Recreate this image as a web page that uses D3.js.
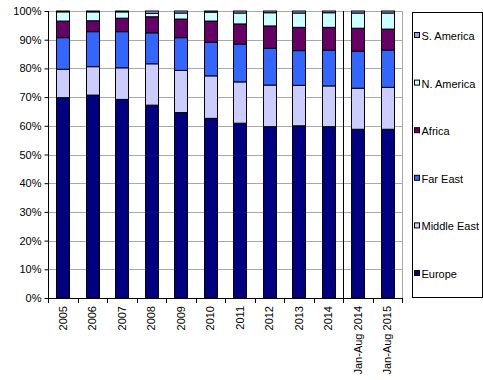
<!DOCTYPE html>
<html>
<head>
<meta charset="utf-8">
<script src="https://cdn.jsdelivr.net/npm/d3@7"></script>
<style>
  body { margin: 0; background: #fff; }
  text { font-family: "Liberation Sans", Arial, sans-serif; font-size: 11px; fill: #000; }
</style>
</head>
<body>
<div id="chart"></div>
<script>
/******************** DATA ********************/

var categories = ["2005", "2006", "2007", "2008", "2009", "2010", "2011", "2012", "2013", "2014",
    "Jan-Aug 2014", "Jan-Aug 2015"];

var europe     = [69.8, 70.7, 69.2, 67.2, 64.6, 62.6, 60.9, 59.7, 60.0, 59.7, 58.8, 58.8];
var middleEast = [9.9, 9.9, 11.0, 14.4, 14.7, 14.8, 14.4, 14.5, 14.1, 14.2, 14.3, 14.6];
var farEast    = [11.0, 12.2, 12.6, 10.8, 11.4, 11.7, 13.2, 12.8, 12.1, 12.5, 12.9, 13.0];
var africa     = [5.8, 3.8, 4.7, 5.6, 6.5, 7.4, 7.0, 7.8, 8.1, 7.9, 8.0, 7.3];
var nAmerica   = [3.2, 3.1, 2.2, 1.2, 2.1, 3.1, 3.8, 4.6, 5.0, 5.1, 5.3, 5.6];
var sAmerica   = [0.3, 0.3, 0.3, 0.8, 0.7, 0.4, 0.7, 0.6, 0.7, 0.6, 0.7, 0.7];

var seriesNames = ["Europe", "Middle East", "Far East", "Africa", "N. America", "S. America"];
var seriesValues = [europe, middleEast, farEast, africa, nAmerica, sAmerica];
var colors = ["#000080", "#CCCCFF", "#3366FF", "#660066", "#CCFFFF", "#9999FF"];

var yTicks = [0, 10, 20, 30, 40, 50, 60, 70, 80, 90, 100];

/******************** LAYOUT ********************/

var margin = { top: 11, right: 81, bottom: 82, left: 48 },
    width = 483 - margin.left - margin.right,
    height = 380 - margin.top - margin.bottom;

var svg = d3.select("#chart").append("svg")
    .attr("width", 483)
    .attr("height", 380)
    .append("g")
    .attr("transform", "translate(" + margin.left + "," + margin.top + ")");

var x = d3.scaleBand().domain(categories).range([0, width]).paddingInner(0.56).paddingOuter(0.28);
var y = d3.scaleLinear().domain([0, 100]).range([height, 0]);

// build rows for the stack
var table = categories.map(function(c, i) {
    var row = { cat: c };
    seriesNames.forEach(function(s, j) { row[s] = seriesValues[j][i]; });
    return row;
});
var stacked = d3.stack().keys(seriesNames)(table);

// gridlines
svg.append("g")
    .selectAll("line")
    .data(yTicks.slice(1))
    .enter().append("line")
    .attr("x1", 0).attr("x2", width)
    .attr("y1", function(d) { return Math.round(y(d)) + 0.5; })
    .attr("y2", function(d) { return Math.round(y(d)) + 0.5; })
    .attr("stroke", "#a8a8a8");

// right border of plot area
svg.append("line")
    .attr("x1", width + 0.5).attr("x2", width + 0.5)
    .attr("y1", y(100)).attr("y2", y(0))
    .attr("stroke", "#a8a8a8");

// bars
svg.append("g")
    .selectAll("g")
    .data(stacked)
    .enter().append("g")
    .attr("fill", function(d, i) { return colors[i]; })
    .selectAll("rect")
    .data(function(d) { return d; })
    .enter().append("rect")
    .attr("x", function(d) { return Math.round(x(d.data.cat)) + 0.5; })
    .attr("width", Math.round(x.bandwidth()))
    .attr("y", function(d) { return y(d[1]); })
    .attr("height", function(d) { return y(d[0]) - y(d[1]); })
    .attr("stroke", "#000")
    .attr("stroke-width", 1);

// separator between full years and Jan-Aug figures
var step = x.step();
var sepX = Math.round(x("Jan-Aug 2014") - (step - x.bandwidth()) / 2) + 0.5;
svg.append("line")
    .attr("x1", sepX).attr("x2", sepX)
    .attr("y1", y(100)).attr("y2", y(0))
    .attr("stroke", "#000");

// y axis
var yAxis = d3.axisLeft(y)
    .tickValues(yTicks)
    .tickSize(4)
    .tickPadding(3)
    .tickFormat(function(d) { return d + "%"; });

var gy = svg.append("g").attr("transform", "translate(0.5,0)").call(yAxis);
gy.select(".domain").attr("stroke", "#000").attr("d", "M0," + y(100) + "V" + (height + 0.5));
gy.selectAll(".tick line").attr("stroke", "#000");
gy.selectAll("text").style("font-size", "11px").attr("fill", "#000");

// x axis line and ticks between categories
svg.append("line")
    .attr("x1", 0).attr("x2", width)
    .attr("y1", height + 0.5).attr("y2", height + 0.5)
    .attr("stroke", "#000");

var bounds = d3.range(categories.length + 1).map(function(i) {
    return i === categories.length ? width : x(categories[i]) - (step - x.bandwidth()) / 2;
});
svg.append("g")
    .selectAll("line")
    .data(bounds)
    .enter().append("line")
    .attr("x1", function(d) { return Math.round(d) + 0.5; })
    .attr("x2", function(d) { return Math.round(d) + 0.5; })
    .attr("y1", height).attr("y2", height + 5)
    .attr("stroke", "#000");

// category labels, rotated
svg.append("g")
    .selectAll("text")
    .data(categories)
    .enter().append("text")
    .attr("transform", function(d) {
        return "translate(" + (x(d) + x.bandwidth() / 2 + 4) + "," + (height + 8) + ") rotate(-90)";
    })
    .style("text-anchor", "end")
    .text(function(d) { return d; });

/******************** LEGEND ********************/

var legend = d3.select("svg").append("g").attr("transform", "translate(412,12)");

legend.append("rect")
    .attr("x", 0.5).attr("y", 0.5)
    .attr("width", 70).attr("height", 285)
    .attr("fill", "#fff")
    .attr("stroke", "#000");

var legendY = d3.scalePoint().domain(seriesNames.slice().reverse()).range([24, 262]);

var items = legend.selectAll(".item")
    .data(seriesNames)
    .enter().append("g")
    .attr("class", "item")
    .attr("transform", function(d) { return "translate(0," + legendY(d) + ")"; });

items.append("rect")
    .attr("x", 2.5).attr("y", -3.5)
    .attr("width", 5).attr("height", 5)
    .attr("fill", function(d, i) { return colors[i]; })
    .attr("stroke", "#000");

items.append("text")
    .attr("x", 9.5)
    .attr("y", 4)
    .text(function(d) { return d; });
</script>
</body>
</html>
